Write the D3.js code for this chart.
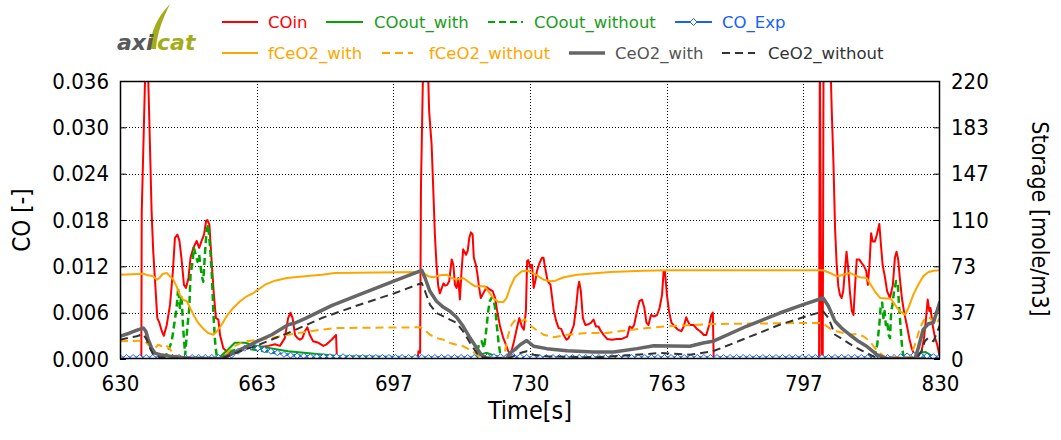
<!DOCTYPE html>
<html><head><meta charset="utf-8">
<script src="https://cdn.jsdelivr.net/npm/d3@7"></script>
<style>
html,body{margin:0;padding:0;background:#fff;}
svg{display:block;}
</style></head>
<body>
<svg id="c" width="1061" height="440"></svg>
<script>
// ---------- DATA ----------
const xTickValues = [630, 663.333, 696.667, 730, 763.333, 796.667, 830];
const xTickLabels = ["630","663","697","730","763","797","830"];
const yLeftTickValues = [0, 0.006, 0.012, 0.018, 0.024, 0.030, 0.036];
const yLeftTickLabels = ["0.000","0.006","0.012","0.018","0.024","0.030","0.036"];
const yRightTickValues = [0, 36.667, 73.333, 110, 146.667, 183.333, 220];
const yRightTickLabels = ["0","37","73","110","147","183","220"];

const seriesNames = ["COin","COout_with","COout_without","CO_Exp","fCeO2_with","fCeO2_without","CeO2_with","CeO2_without"];

const COin = [[630,0],[635.2,0],[635.3,0.019],[636.1,0.036],[636.5,0.037],[636.9,0.036],[637.3,0.0278],[637.7,0.0192],[638.1,0.0140],[638.5,0.0105],[639.1,0.0053],[639.6,0.0047],[640.2,0.0036],[640.7,0.0030],[641.4,0.0044],[642.2,0.0070],[642.9,0.0114],[643.4,0.0157],[644.0,0.0161],[644.5,0.0153],[645.0,0.0130],[645.6,0.0096],[646.1,0.0092],[646.7,0.0105],[647.2,0.0131],[647.9,0.0144],[648.7,0.0153],[649.3,0.0144],[649.9,0.0153],[650.5,0.0161],[651.0,0.0179],[651.3,0.0180],[651.8,0.0174],[652.4,0.0122],[652.9,0.0083],[653.4,0.0053],[654.0,0.0051],[654.4,0.0031],[655.2,0.0014],[656.4,0.0008],[657.6,0.0008],[659.3,0.0011],[662.9,0.0017],[664.6,0.0016],[666.2,0.0017],[667.8,0.0019],[669.0,0.0017],[670.2,0.0027],[671.0,0.0053],[671.6,0.0060],[672.1,0.0053],[672.7,0.0031],[673.3,0.0027],[673.9,0.0025],[674.5,0.0027],[675.1,0.0036],[675.7,0.0041],[676.3,0.0031],[677.1,0.0023],[678.4,0.0021],[679.6,0.0017],[680.4,0.0019],[681.6,0.0025],[682.7,0.0031],[682.9,0],[702.6,0],[702.8,0.0010],[703.2,0.0008],[703.4,0.022],[703.9,0.037],[704.4,0.040],[705.1,0.038],[705.4,0.0321],[706.0,0.0278],[706.4,0.0221],[706.8,0.0161],[707.2,0.0122],[707.6,0.0095],[708.0,0.0085],[708.5,0.0092],[708.9,0.0098],[709.3,0.0095],[709.8,0.0096],[710.3,0.0101],[710.9,0.0129],[711.3,0.0122],[711.7,0.0096],[712.1,0.0092],[712.5,0.0105],[712.9,0.0077],[713.3,0.0114],[713.7,0.0142],[714.4,0.0135],[714.8,0.0140],[715.2,0.0157],[715.6,0.0164],[716.0,0.0161],[716.3,0.0131],[716.8,0.0122],[717.2,0.0109],[717.6,0.0092],[718.0,0.0079],[718.6,0.0085],[719.4,0.0093],[720.2,0.0090],[720.9,0.0088],[721.5,0.0079],[722.0,0.0062],[722.7,0.0042],[723.5,0.0027],[724.1,0.0019],[724.7,0.0010],[725.3,0.0006],[726.1,0.0023],[726.8,0.0040],[727.4,0.0053],[728.0,0.0042],[728.5,0.0038],[729.0,0.0062],[729.3,0.0127],[729.6,0.0128],[730.1,0.0118],[730.5,0.0122],[730.9,0.0092],[731.3,0.0101],[731.7,0.0114],[732.3,0.0124],[732.9,0.0131],[733.3,0.0131],[733.7,0.0118],[734.3,0.0101],[735.0,0.0096],[735.4,0.0079],[735.8,0.0062],[736.4,0.0049],[737.0,0.0040],[737.6,0.0039],[738.2,0.0031],[738.9,0.0025],[739.4,0.0027],[740.0,0.0034],[740.7,0.0044],[741.3,0.0070],[741.7,0.0092],[742.0,0.0100],[742.4,0.0088],[742.9,0.0053],[743.5,0.0044],[744.3,0.0045],[744.9,0.0047],[745.5,0.0051],[746.1,0.0042],[746.7,0.0042],[747.3,0.0036],[748.0,0.0031],[748.8,0.0026],[750.0,0.0025],[751.2,0.0026],[752.4,0.0026],[753.7,0.0029],[754.3,0.0042],[754.9,0.0040],[755.4,0.0044],[756.1,0.0062],[756.7,0.0075],[757.3,0.0077],[757.9,0.0066],[758.4,0.0047],[758.9,0.0044],[759.5,0.0057],[760.2,0.0055],[761.0,0.0057],[761.6,0.0066],[762.2,0.0083],[762.6,0.0114],[762.9,0.0114],[763.4,0.0083],[763.9,0.0062],[764.5,0.0047],[765.3,0.0042],[766.1,0.0038],[766.9,0.0036],[767.5,0.0042],[768.1,0.0054],[768.5,0.0049],[769.0,0.0044],[769.9,0.0044],[770.7,0.0039],[771.5,0.0036],[772.4,0.0031],[773.0,0.0031],[773.7,0.0044],[774.2,0.0057],[774.6,0.0060],[774.8,0],[800.5,0],[800.7,0.040],[801.1,0],[801.4,0],[801.6,0.040],[802.5,0.042],[803.3,0.038],[803.6,0.0321],[804.0,0.0256],[804.4,0.0170],[804.8,0.0122],[805.2,0.0094],[805.6,0.0083],[806.0,0.0079],[806.4,0.0088],[806.8,0.0114],[807.2,0.0139],[807.6,0.0118],[808.0,0.0088],[808.5,0.0062],[808.9,0.0057],[809.3,0.0096],[809.7,0.0129],[810.3,0.0129],[810.9,0.0124],[811.5,0.0120],[812.0,0.0114],[812.4,0.0096],[812.8,0.0122],[813.2,0.0163],[813.6,0.0152],[814.1,0.0152],[814.6,0.0161],[815.2,0.0175],[815.6,0.0148],[816.0,0.0122],[816.6,0.0105],[817.1,0.0088],[817.8,0.0079],[818.5,0.0096],[819.0,0.0131],[819.4,0.0139],[819.8,0.0129],[820.2,0.0105],[820.7,0.0079],[821.2,0.0062],[821.9,0.0044],[822.5,0.0027],[823.1,0.0014],[823.7,0.0006],[824.3,0.0003],[825.0,0.0003],[825.5,0.0010],[826.1,0.0027],[826.6,0.0053],[827.0,0.0077],[827.4,0.0062],[827.7,0.0066],[828.2,0.0044],[828.8,0.0027],[829.3,0.0019],[829.8,0.0006],[830,0.0003]];

const COout_with = [[630,0.0001],[654.0,0.0001],[654.4,0.0003],[656.3,0.0012],[658.0,0.0021],[660.5,0.0021],[663.3,0.0017],[671.0,0.0010],[683.2,0.0004],[697.1,0.0003],[703.2,0.0002],[716,0.0002],[718,0.0006],[719.5,0.0008],[721,0.0005],[723,0.0002],[810,0.0002],[823.5,0.0003],[825,0.0008],[826.5,0.0009],[828,0.0004],[830,0.0002]];

const COout_without = [[630,0],[641.0,0],[641.4,0.0007],[642.6,0.0022],[643.8,0.0066],[644.2,0.0092],[644.6,0.0066],[645.0,0.0083],[645.4,0.0040],[645.9,0.0005],[646.4,0.0040],[646.9,0.0066],[647.2,0.0109],[647.7,0.0126],[648.0,0.0144],[648.5,0.0135],[648.9,0.0126],[649.3,0.0135],[649.9,0.0109],[650.3,0.0100],[650.7,0.0135],[651.1,0.0165],[651.5,0.0174],[652.0,0.0143],[652.4,0.0109],[652.8,0.0057],[653.2,0.0022],[653.6,0.0003],[655,0.0002],[657,0.0010],[660,0.0014],[663,0.0012],[670,0.0006],[680,0.0002],[716.2,0.0001],[717.1,0.0010],[717.6,0.0019],[718.2,0.0023],[718.8,0.0014],[719.3,0.0036],[719.8,0.0062],[720.2,0.0075],[720.7,0.0080],[721.1,0.0077],[721.5,0.0066],[721.9,0.0044],[722.3,0.0023],[722.7,0.0008],[723.1,0.0001],[814.0,0.0001],[814.1,0.0004],[814.7,0.0019],[815.2,0.0044],[815.5,0.0066],[815.9,0.0073],[816.2,0.0053],[816.5,0.0062],[816.8,0.0044],[817.1,0.0049],[817.5,0.0031],[817.8,0.0027],[818.1,0.0062],[818.4,0.0070],[818.8,0.0088],[819.3,0.0101],[819.7,0.0097],[820.0,0.0070],[820.4,0.0040],[820.7,0.0019],[821.0,0.0006],[821.5,0.0001],[830,0.0001]];

const CO_Exp = [[630,0.0002],[631.6,0.0002],[633.2,0.0002],[634.8,0.0002],[636.4,0.0002],[638,0.0002],[639.6,0.0002],[641.2,0.0002],[642.8,0.0002],[644.4,0.0002],[646,0.0002],[647.6,0.0002],[649.2,0.0002],[650.8,0.0002],[652.4,0.0002],[654,0.0002],[655.6,0.0002],[657.2,0.0005],[658.8,0.0010],[660.4,0.0014],[662,0.0016],[663.6,0.0014],[665.2,0.0012],[666.8,0.0010],[668.4,0.0008],[670,0.0006],[671.6,0.0005],[673.2,0.0004],[674.8,0.0004],[676.4,0.0003],[678,0.0003],[679.6,0.0003],[681.2,0.0003],[682.8,0.0003],[684.4,0.0003],[686,0.0002],[687.6,0.0002],[689.2,0.0002],[690.8,0.0002],[692.4,0.0002],[694,0.0002],[695.6,0.0002],[697.2,0.0002],[698.8,0.0002],[700.4,0.0002],[702,0.0002],[703.6,0.0002],[705.2,0.0002],[706.8,0.0002],[708.4,0.0002],[710,0.0002],[711.6,0.0002],[713.2,0.0002],[714.8,0.0002],[716.4,0.0002],[718,0.0002],[719.6,0.0003],[721.2,0.0003],[722.8,0.0003],[724.4,0.0003],[726,0.0003],[727.6,0.0003],[729.2,0.0002],[730.8,0.0002],[732.4,0.0002],[734,0.0002],[735.6,0.0002],[737.2,0.0002],[738.8,0.0002],[740.4,0.0002],[742,0.0002],[743.6,0.0002],[745.2,0.0002],[746.8,0.0002],[748.4,0.0002],[750,0.0002],[751.6,0.0002],[753.2,0.0002],[754.8,0.0002],[756.4,0.0002],[758,0.0002],[759.6,0.0002],[761.2,0.0002],[762.8,0.0002],[764.4,0.0002],[766,0.0002],[767.6,0.0002],[769.2,0.0002],[770.8,0.0002],[772.4,0.0002],[774,0.0002],[775.6,0.0002],[777.2,0.0002],[778.8,0.0002],[780.4,0.0002],[782,0.0002],[783.6,0.0002],[785.2,0.0002],[786.8,0.0002],[788.4,0.0002],[790,0.0002],[791.6,0.0002],[793.2,0.0002],[794.8,0.0002],[796.4,0.0002],[798,0.0002],[799.6,0.0002],[801.2,0.0002],[802.8,0.0002],[804.4,0.0002],[806,0.0002],[807.6,0.0002],[809.2,0.0002],[810.8,0.0002],[812.4,0.0002],[814,0.0002],[815.6,0.0002],[817.2,0.0002],[818.8,0.0002],[820.4,0.0003],[822,0.0004],[823.6,0.0005],[825.2,0.0005],[826.8,0.0004],[828.4,0.0003],[830,0.0003]];

const fCeO2_with = [[630,66.7],[635.7,67.5],[636.9,66.2],[638.1,65.4],[639.0,62.8],[639.6,64.1],[640.4,67.3],[641.4,68.1],[642.2,65.4],[643.0,62.8],[643.8,57.5],[644.6,50.9],[645.4,46.9],[646.3,45.7],[647.1,40.4],[647.9,35.1],[649.1,28.5],[650.3,24.0],[651.5,20.6],[652.8,19.2],[653.6,21.9],[654.8,27.1],[656.0,33.8],[657.6,40.4],[659.3,45.7],[660.9,49.6],[662.5,52.2],[665.4,58.8],[667.8,62.0],[670.7,64.1],[675.1,65.4],[679.2,66.7],[682.4,68.1],[703.2,68.9],[704.0,68.1],[705.2,65.4],[706.4,64.7],[708.0,66.2],[709.7,66.7],[710.9,64.1],[712.1,62.8],[713.7,64.1],[715.4,60.1],[716.6,57.5],[719.0,57.5],[719.8,53.6],[721.0,48.3],[722.3,45.1],[723.5,45.1],[724.3,48.3],[725.1,56.2],[726.3,64.7],[728.0,69.4],[729.6,69.9],[730.5,68.1],[731.7,66.2],[733.3,62.8],[735.0,61.5],[736.2,62.0],[738.2,64.7],[741.5,66.7],[749.6,68.9],[757.7,69.9],[763.4,70.2],[801.5,70.2],[803.2,68.1],[804.8,65.4],[806.4,66.7],[808.0,68.1],[809.3,66.2],[810.5,64.7],[812.1,64.1],[813.1,58.8],[814.1,53.6],[815.4,48.3],[818.0,47.7],[819.0,43.0],[820.2,37.7],[821.5,35.1],[822.3,40.4],[823.5,50.9],[824.7,58.8],[825.9,65.4],[827.1,68.6],[828.4,69.9],[830,70.2]];

const fCeO2_without = [[630,14.0],[634.9,14.5],[636.1,14.0],[636.9,11.3],[637.7,8.7],[638.5,8.2],[639.3,11.3],[640.2,10.1],[641.0,11.3],[641.8,9.3],[642.6,6.1],[643.4,3.4],[644.2,1.3],[645.0,0.4],[653.9,0.2],[655.2,1.8],[657.6,9.7],[660.1,13.7],[663.3,15.0],[667.0,16.6],[671.0,19.2],[675.1,21.4],[679.2,23.2],[682.4,24.5],[703.2,25.1],[704.0,24.0],[705.6,19.2],[707.2,16.6],[708.9,15.3],[710.5,12.7],[712.1,11.3],[713.7,10.1],[715.4,7.1],[716.6,4.7],[717.8,1.3],[723.5,0.6],[723.9,6.1],[724.7,19.2],[725.5,27.1],[726.3,30.5],[727.1,29.8],[728.0,30.0],[728.8,31.5],[729.3,28.5],[730.9,24.5],[733.3,19.2],[735.8,17.2],[739.0,19.2],[743.9,20.6],[748.8,20.6],[753.7,22.7],[758.5,24.5],[763.4,25.9],[774.6,27.7],[796.6,28.5],[800.7,28.5],[801.9,27.1],[803.2,24.0],[804.8,21.9],[806.4,20.6],[808.0,19.2],[809.7,19.8],[811.3,18.0],[812.9,14.0],[814.1,8.7],[815.4,4.7],[816.6,1.3],[822.7,1.3],[823.9,11.3],[825.1,24.5],[826.3,32.4],[827.6,32.4],[828.8,27.1],[830,32.4]];

const CeO2_with = [[630,18.0],[632.4,20.6],[634.5,23.2],[635.7,24.5],[636.3,21.9],[636.9,15.3],[637.7,8.7],[638.5,4.7],[639.8,3.4],[642.2,2.1],[644.6,1.3],[646.3,0.8],[653.9,0.2],[655.2,1.0],[656.8,3.2],[660.1,8.5],[663.3,13.7],[667.0,19.2],[671.0,27.1],[672.7,28.5],[675.1,31.9],[681.6,42.2],[687.3,49.6],[697.1,62.0],[703.6,70.2],[704.4,64.1],[705.6,53.6],[707.2,45.7],[708.9,40.9],[710.5,37.7],[712.1,33.0],[713.7,25.9],[715.4,16.6],[717.0,8.7],[718.2,2.9],[719.4,0.4],[724.3,0.4],[725.1,4.7],[726.3,7.4],[727.6,11.3],[729.2,14.6],[730.9,10.1],[734.1,8.2],[739.0,6.6],[745.5,5.5],[750.4,5.5],[756.1,8.2],[760.2,10.5],[769.0,10.1],[772.2,12.7],[774.6,14.0],[782.8,25.9],[790.9,36.4],[796.6,43.0],[801.5,48.3],[802.8,41.7],[804.4,29.8],[806.0,24.5],[808.0,19.2],[810.1,14.0],[812.1,10.1],[814.6,3.4],[817.0,0.4],[823.9,0.4],[824.7,8.7],[825.9,23.3],[827.1,27.7],[828.4,28.9],[830,45.5]];

const CeO2_without = [[630,15.3],[634.1,18.0],[635.7,19.8],[636.5,15.3],[637.3,8.7],[638.1,3.4],[639.8,1.3],[642.2,0.4],[653.9,0.2],[655.2,1.0],[660.1,7.1],[663.3,10.5],[671.0,20.6],[679.2,32.4],[687.3,41.7],[697.1,52.2],[703.6,60.1],[704.4,53.6],[705.6,43.0],[707.2,36.4],[709.7,32.4],[712.1,28.5],[713.7,21.9],[715.4,12.7],[717.0,4.7],[718.2,1.3],[724.7,0.4],[725.9,2.1],[727.6,4.7],[729.2,6.1],[730.0,4.7],[730.9,3.4],[734.1,2.1],[745.5,1.3],[753.7,2.9],[761.8,4.7],[769.0,3.4],[774.6,6.1],[782.8,16.6],[790.9,27.1],[796.6,33.0],[801.5,37.7],[802.8,32.4],[804.4,19.2],[806.4,15.3],[808.9,10.1],[811.3,6.1],[813.7,2.1],[815.4,0.4],[824.3,0.4],[825.5,6.1],[826.3,14.0],[827.1,16.6],[828.4,14.0],[830,27.1]];

// ---------- CHART ----------
const svg = d3.select("#c");
const plot = {l:120, r:940, t:81, b:359};
const x = d3.scaleLinear().domain([630,830]).range([plot.l, plot.r]);
const yL = d3.scaleLinear().domain([0,0.036]).range([plot.b, plot.t]);
const yR = d3.scaleLinear().domain([0,220]).range([plot.b, plot.t]);

const tickFont = "'DejaVu Sans Condensed','DejaVu Sans',sans-serif";

svg.append("defs").append("clipPath").attr("id","clip")
  .append("rect").attr("x",plot.l).attr("y",plot.t).attr("width",plot.r-plot.l).attr("height",plot.b-plot.t);

// grid
const grid = svg.append("g").attr("stroke","#000").attr("stroke-width",1).attr("stroke-dasharray","1,2");
grid.selectAll(".gx").data(xTickValues.slice(1,-1)).join("line")
  .attr("x1",d=>Math.round(x(d))+0.5).attr("x2",d=>Math.round(x(d))+0.5)
  .attr("y1",plot.t).attr("y2",plot.b);
grid.selectAll(".gy").data(yLeftTickValues.slice(1,-1)).join("line")
  .attr("y1",d=>Math.round(yL(d))+0.5).attr("y2",d=>Math.round(yL(d))+0.5)
  .attr("x1",plot.l).attr("x2",plot.r);

// axes
function styleAxis(g){
  g.select(".domain").remove();
  g.selectAll("text").attr("font-family",tickFont).attr("font-size",22).attr("fill","#000");
  g.selectAll("line").attr("stroke","#000").attr("stroke-width",1);
}
svg.append("g").attr("transform",`translate(${plot.l},0)`)
  .call(d3.axisLeft(yL).tickValues(yLeftTickValues).tickFormat((d,i)=>yLeftTickLabels[i]).tickSize(-6).tickPadding(11))
  .call(styleAxis);
svg.append("g").attr("transform",`translate(${plot.r},0)`)
  .call(d3.axisRight(yR).tickValues(yRightTickValues).tickFormat((d,i)=>yRightTickLabels[i]).tickSize(-6).tickPadding(11))
  .call(styleAxis);
svg.append("g").attr("transform",`translate(0,${plot.b})`)
  .call(d3.axisBottom(x).tickValues(xTickValues).tickFormat((d,i)=>xTickLabels[i]).tickSize(0).tickPadding(16))
  .call(styleAxis);

// lines
const gLines = svg.append("g").attr("clip-path","url(#clip)");
function drawLine(data, yScale, color, width, dash){
  const line = d3.line().x(d=>x(d[0])).y(d=>yScale(d[1]));
  gLines.append("path").datum(data).attr("d",line)
    .attr("fill","none").attr("stroke",color).attr("stroke-width",width)
    .attr("stroke-linejoin","round")
    .attr("stroke-dasharray",dash||null);
}
const C = {red:"#ff0000", green:"#00a500", blue:"#1560ff", orange:"#ffa500", gray:"#666666", dark:"#333333"};

drawLine(COin, yL, C.red, 2);
drawLine(COout_with, yL, C.green, 2);
drawLine(COout_without, yL, C.green, 2.5, "7,4");
drawLine(CO_Exp, yL, C.blue, 2);
gLines.append("g").selectAll("path").data(CO_Exp).join("path")
  .attr("transform",d=>`translate(${x(d[0])},${yL(d[1])})`)
  .attr("d","M0,-3L3,0L0,3L-3,0Z").attr("fill","#fff").attr("stroke",C.blue).attr("stroke-width",1);
drawLine(fCeO2_with, yR, C.orange, 2);
drawLine(fCeO2_without, yR, C.orange, 2, "8,5");
drawLine(CeO2_with, yR, C.gray, 3.5);
drawLine(CeO2_without, yR, C.dark, 2, "8,5");

// frame
svg.append("rect").attr("x",plot.l+0.5).attr("y",plot.t+0.5).attr("width",plot.r-plot.l-1).attr("height",plot.b-plot.t-1)
  .attr("fill","none").attr("stroke","#000").attr("stroke-width",1.5);

// axis titles
svg.append("text").attr("transform",`translate(30,220) rotate(-90)`).attr("text-anchor","middle")
  .attr("font-family",tickFont).attr("font-size",24).text("CO [-]");
svg.append("text").attr("transform",`translate(1032,219) rotate(90)`).attr("text-anchor","middle")
  .attr("font-family",tickFont).attr("font-size",23).text("Storage [mole/m3]");
svg.append("text").attr("x",530).attr("y",419).attr("text-anchor","middle")
  .attr("font-family",tickFont).attr("font-size",25).text("Time[s]");

// legend
const legendItems = [
  {name:seriesNames[0], color:C.red, text:C.red, w:2, dash:null, x1:222, x2:258, tx:268, y:22},
  {name:seriesNames[1], color:C.green, text:"#1a9e1a", w:2, dash:null, x1:326, x2:363, tx:374, y:22},
  {name:seriesNames[2], color:C.green, text:"#1a9e1a", w:2, dash:"7,4", x1:488, x2:523, tx:534, y:22},
  {name:seriesNames[3], color:C.blue, text:C.blue, w:2, dash:null, x1:675, x2:712, tx:722, y:22, marker:true},
  {name:seriesNames[4], color:C.orange, text:C.orange, w:2, dash:null, x1:222, x2:258, tx:268, y:53},
  {name:seriesNames[5], color:C.orange, text:C.orange, w:2, dash:"8,5", x1:382, x2:413, tx:429, y:53},
  {name:seriesNames[6], color:C.gray, text:"#555555", w:3.5, dash:null, x1:569, x2:605, tx:615, y:53},
  {name:seriesNames[7], color:C.dark, text:"#333333", w:2, dash:"8,5", x1:722, x2:755, tx:768, y:53}
];
const lg = svg.append("g");
legendItems.forEach(it=>{
  lg.append("line").attr("x1",it.x1).attr("x2",it.x2).attr("y1",it.y).attr("y2",it.y)
    .attr("stroke",it.color).attr("stroke-width",it.w).attr("stroke-dasharray",it.dash);
  if(it.marker){
    lg.append("path").attr("transform",`translate(${(it.x1+it.x2)/2},${it.y})`)
      .attr("d","M0,-3.5L3.5,0L0,3.5L-3.5,0Z").attr("fill","#fff").attr("stroke",it.color).attr("stroke-width",1);
  }
  lg.append("text").attr("x",it.tx).attr("y",it.y+6).attr("font-family","'DejaVu Sans',sans-serif")
    .attr("font-size",16.5).attr("fill",it.text).text(it.name);
});

// logo
const logo = svg.append("g");
logo.append("path").attr("d","M150,49 C150,32 158,16 170,4 C163,18 157,33 156,49 Z").attr("fill","#a3ad1a");
logo.append("text").attr("x",117).attr("y",50).attr("font-family","'DejaVu Sans',sans-serif")
  .attr("font-weight","bold").attr("font-style","italic").attr("font-size",22).attr("fill","#58595b").text("axi");
logo.append("text").attr("x",157).attr("y",50).attr("font-family","'DejaVu Sans',sans-serif")
  .attr("font-weight","bold").attr("font-style","italic").attr("font-size",22).attr("fill","#a3ad1a").text("cat");
</script>
</body></html>
